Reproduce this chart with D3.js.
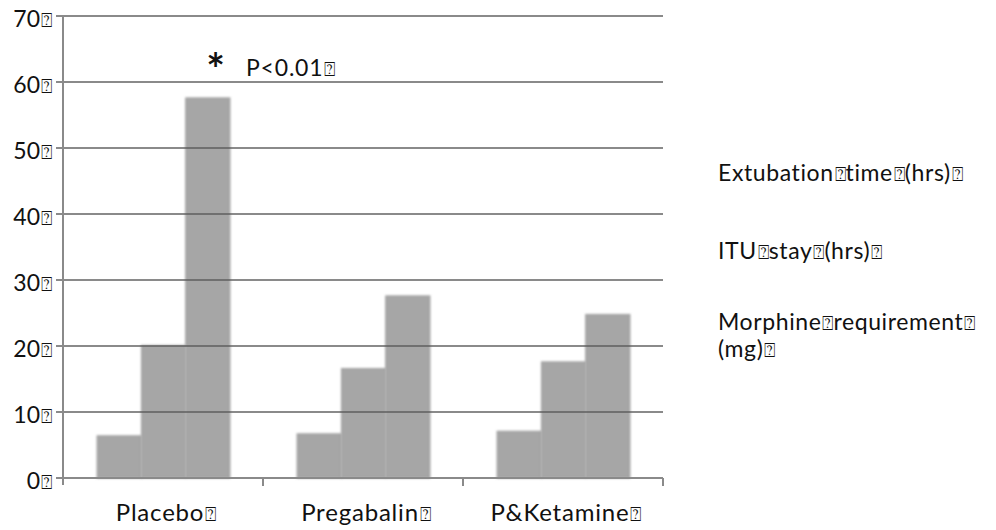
<!DOCTYPE html>
<html><head><meta charset="utf-8">
<script src="https://cdn.jsdelivr.net/npm/d3@7"></script>
<style>body{margin:0;background:#fff}svg{display:block}text{font-family:Lato,"Open Sans",sans-serif;fill:#111}</style>
</head><body><svg id="c" width="996" height="530"></svg>
<script>
const categories = ["Placebo", "Pregabalin", "P&Ketamine"];
const seriesNames = ["Extubation time (hrs)", "ITU stay (hrs)", "Morphine requirement (mg)"];
const extubation = [6.4, 6.7, 7.1];
const ituStay = [20.1, 16.6, 17.6];
const morphine = [57.6, 27.6, 24.8];
const yTicks = [0, 10, 20, 30, 40, 50, 60, 70];
const BOX = "\u2370";

const svg = d3.select("#c");
const M = {l: 63, r: 663, t: 16, b: 478};
const y = d3.scaleLinear().domain([0, 70]).range([M.b, M.t]);
const x0 = d3.scaleBand().domain(categories).range([M.l, M.r]).padding(0);
const x1 = d3.scaleBand().domain([0,1,2]).range([34, x0.bandwidth()-33]).padding(0);
const series = [extubation, ituStay, morphine];

const defs = svg.append("defs");
defs.append("filter").attr("id","soft").attr("x","-10%").attr("y","-10%").attr("width","120%").attr("height","120%")
  .append("feGaussianBlur").attr("stdDeviation", 0.9);

// bars
const g = svg.append("g");
categories.forEach((c, ci) => {
  series.forEach((s, si) => {
    g.append("rect")
      .attr("x", x0(c) + x1(si))
      .attr("y", y(s[ci]))
      .attr("width", x1.bandwidth())
      .attr("height", y(0) - y(s[ci]))
      .attr("fill", "#a6a6a6")
      .attr("stroke", "#9a9a9a").attr("stroke-width", 0.8)
      .attr("filter", "url(#soft)");
  });
});

// gridlines
svg.append("g").selectAll("line").data(yTicks.filter(d => d > 0)).join("line")
  .attr("x1", M.l - 7).attr("x2", M.r)
  .attr("y1", d => y(d)).attr("y2", d => y(d))
  .attr("stroke", "#5a5a5a").attr("stroke-opacity", 0.71).attr("stroke-width", 2);

// axes
const axisCol = "#8a8a8a";
svg.append("line").attr("x1", M.l).attr("x2", M.l).attr("y1", M.t).attr("y2", M.b + 7)
  .attr("stroke", axisCol).attr("stroke-width", 2);
svg.append("line").attr("x1", M.l - 7).attr("x2", M.r).attr("y1", y(0)).attr("y2", y(0))
  .attr("stroke", axisCol).attr("stroke-width", 2);
svg.append("g").selectAll("line").data(categories).join("line")
  .attr("x1", d => x0(d) + x0.bandwidth()).attr("x2", d => x0(d) + x0.bandwidth())
  .attr("y1", y(0)).attr("y2", y(0) + 8)
  .attr("stroke", axisCol).attr("stroke-width", 2);

const BOXSIZE = 19;
function boxed(sel, str) {
  str.split(" ").forEach((p, i) => {
    sel.append("tspan").text(p);
    sel.append("tspan").attr("font-size", BOXSIZE).attr("font-family", "DejaVu Sans")
      .attr("letter-spacing", 0).attr("dx", 1).text(BOX);
  });
}

// y tick labels
svg.append("g").selectAll("text").data(yTicks).join("text")
  .attr("x", 52).attr("y", d => y(d) + 10.5)
  .attr("text-anchor", "end").attr("font-size", 23)
  .each(function(d){ boxed(d3.select(this), String(d)); });

// category labels
svg.append("g").selectAll("text").data(categories).join("text")
  .attr("x", d => x0(d) + x0.bandwidth()/2 + 3).attr("y", 521)
  .attr("text-anchor", "middle").attr("font-size", 24).attr("letter-spacing", 0.8)
  .each(function(d){ boxed(d3.select(this), d); });

// significance
svg.append("text").attr("x", 215.5).attr("y", 85).attr("text-anchor", "middle")
  .attr("font-size", 44).attr("font-family", "DejaVu Sans").attr("font-weight", "bold").text("*");
boxed(svg.append("text").attr("x", 246).attr("y", 76).attr("font-size", 23).attr("letter-spacing", 0.8), "P<0.01");

// legend (text only)
const lg = svg.append("g").attr("font-size", 23).attr("letter-spacing", 0.6);
boxed(lg.append("text").attr("x", 718).attr("y", 181), seriesNames[0]);
boxed(lg.append("text").attr("x", 718).attr("y", 259), seriesNames[1]);
const mw = seriesNames[2].split(" ");
boxed(lg.append("text").attr("x", 718).attr("y", 330), mw.slice(0,2).join(" "));
boxed(lg.append("text").attr("x", 718).attr("y", 357), mw.slice(2).join(" "));
</script></body></html>
